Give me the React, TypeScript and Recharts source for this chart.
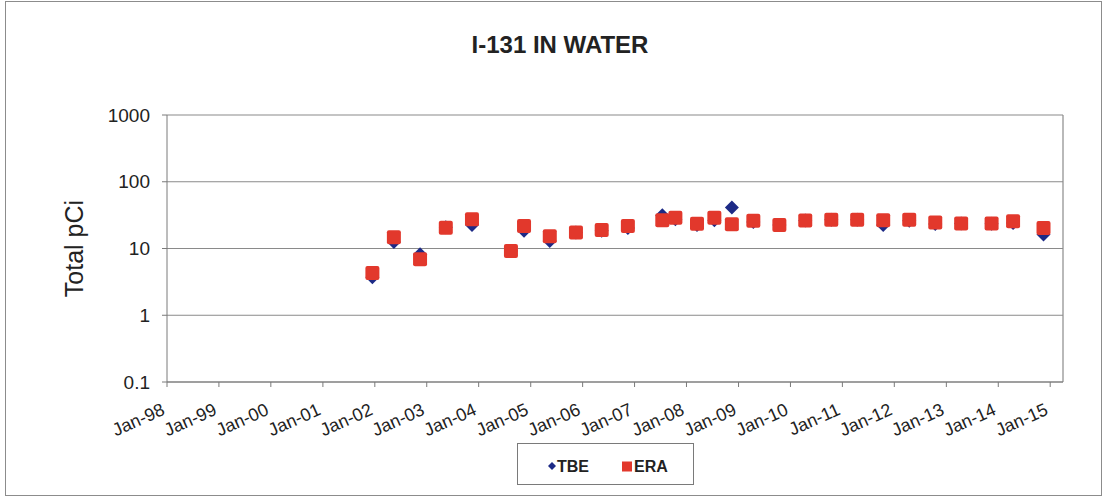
import React from "react";
import {
  CartesianGrid,
  ReferenceLine,
  Scatter,
  ScatterChart,
  XAxis,
  YAxis,
} from "recharts";

// Sample months (year-month) for the paired TBE / ERA results
const sampleMonths = [
  "2001-12", "2002-05", "2002-11", "2003-05", "2003-11", "2004-08",
  "2004-11", "2005-05", "2005-11", "2006-05", "2006-11", "2007-07",
  "2007-10", "2008-03", "2008-07", "2008-11", "2009-04", "2009-10",
  "2010-04", "2010-10", "2011-04", "2011-10", "2012-04", "2012-10",
  "2013-04", "2013-11", "2014-04", "2014-11",
];

const tbeValues = [
  3.7, 12.5, 8.2, 20.8, 22.5, 9.2, 18.5, 13, 17.4, 18.5, 20.3, 31.5,
  27.5, 22.5, 26.5, 41, 25, 22.4, 26.2, 27, 27, 22.5, 26, 23.3, 23.7,
  23.5, 24, 16.2,
];

const eraValues = [
  4.3, 14.7, 6.9, 20.4, 27.5, 9.2, 21.8, 15.3, 17.4, 19, 21.8, 26.5,
  28.8, 23.5, 28.8, 23, 26, 22.4, 26.2, 27, 27, 26.5, 27, 24.5, 23.7,
  23.7, 25.6, 20.3,
];

const tickYears = [
  1998, 1999, 2000, 2001, 2002, 2003, 2004, 2005, 2006, 2007, 2008,
  2009, 2010, 2011, 2012, 2013, 2014, 2015,
];

const yTicks = [0.1, 1, 10, 100, 1000];

const FONT = '"Liberation Sans", Arial, sans-serif';
const TBE_COLOR = "#1d2a86";
const ERA_COLOR = "#e2382c";

const monthToTime = (m: string) => {
  const [y, mo] = m.split("-").map(Number);
  return Date.UTC(y, mo - 1, 15);
};

const tbeData = sampleMonths.map((m, i) => ({ t: monthToTime(m), v: tbeValues[i] }));
const eraData = sampleMonths.map((m, i) => ({ t: monthToTime(m), v: eraValues[i] }));
const xTicks = tickYears.map((y) => Date.UTC(y, 0, 1));
const xMin = Date.UTC(1998, 0, 1);
const xMax = Date.UTC(2015, 3, 1);

const fmtYear = (t: number) => {
  const y = new Date(t).getUTCFullYear();
  return `Jan-${String(y % 100).padStart(2, "0")}`;
};

const Diamond = (props: any) => {
  const { cx, cy } = props;
  const r = 7;
  return (
    <polygon
      points={`${cx},${cy - r} ${cx + r},${cy} ${cx},${cy + r} ${cx - r},${cy}`}
      fill={TBE_COLOR}
    />
  );
};

const Square = (props: any) => {
  const { cx, cy } = props;
  const s = 14;
  return (
    <rect x={cx - s / 2} y={cy - s / 2} width={s} height={s} rx={2} fill={ERA_COLOR} />
  );
};

// rotated date labels, right end of the baseline sits just under each tick
const XTick = (props: any) => {
  const { x, y, payload } = props;
  const ax = x - 1;
  const ay = y + 27;
  return (
    <text
      x={ax}
      y={ay}
      textAnchor="end"
      transform={`rotate(-24, ${ax}, ${ay})`}
      fontFamily={FONT}
      fontSize={18}
      fill="#222"
    >
      {fmtYear(payload.value)}
    </text>
  );
};

const YLabel = (props: any) => {
  const { viewBox } = props;
  const cx = 83;
  const cy = viewBox.y + viewBox.height / 2;
  return (
    <text
      x={cx}
      y={cy}
      textAnchor="middle"
      transform={`rotate(-90, ${cx}, ${cy})`}
      fontFamily={FONT}
      fontSize={25}
      fill="#222"
    >
      Total pCi
    </text>
  );
};

export default function App() {
  return (
    <div style={{ position: "absolute", left: 0, top: 0, width: 1107, height: 498, background: "#fff" }}>
      <ScatterChart
        width={1107}
        height={498}
        margin={{ top: 115, right: 44, left: 40, bottom: 56 }}
      >
        <CartesianGrid vertical={false} stroke="#8a8a8a" strokeWidth={1.2} />
        <XAxis
          type="number"
          dataKey="t"
          domain={[xMin, xMax]}
          ticks={xTicks}
          interval={0}
          height={60}
          tickSize={5}
          tickMargin={0}
          tick={<XTick />}
          stroke="#7a7a7a"
          allowDataOverflow
        />
        <YAxis
          type="number"
          dataKey="v"
          scale="log"
          domain={[0.1, 1000]}
          ticks={yTicks}
          interval={0}
          width={127}
          tickSize={5}
          tickMargin={12}
          tickFormatter={(v: number) => String(v)}
          tick={{ fontFamily: FONT, fontSize: 19, fill: "#222" }}
          stroke="#7a7a7a"
          allowDataOverflow
          label={<YLabel />}
        />
        <ReferenceLine x={xMax} stroke="#8a8a8a" strokeWidth={1.2} />
        <Scatter name="TBE" data={tbeData} shape={<Diamond />} isAnimationActive={false} />
        <Scatter name="ERA" data={eraData} shape={<Square />} isAnimationActive={false} />
      </ScatterChart>
      <svg
        width={1107}
        height={498}
        style={{ position: "absolute", left: 0, top: 0, pointerEvents: "none" }}
      >
        <rect x={5.5} y={1.5} width={1096} height={494} fill="none" stroke="#8c8c8c" />
        <text
          x={560}
          y={53}
          textAnchor="middle"
          fontFamily={FONT}
          fontWeight="bold"
          fontSize={24}
          fill="#222"
        >
          I-131 IN WATER
        </text>
        <rect x={517.5} y={443.5} width={176} height={41} fill="#fff" stroke="#7a7a7a" />
        <polygon points="552,462 556,466 552,470 548,466" fill={TBE_COLOR} />
        <text x={557} y={472} fontFamily={FONT} fontWeight="bold" fontSize={16} fill="#222">
          TBE
        </text>
        <rect x={622} y={461.5} width={10} height={10} fill={ERA_COLOR} />
        <text x={634} y={472} fontFamily={FONT} fontWeight="bold" fontSize={16} fill="#222">
          ERA
        </text>
      </svg>
    </div>
  );
}
